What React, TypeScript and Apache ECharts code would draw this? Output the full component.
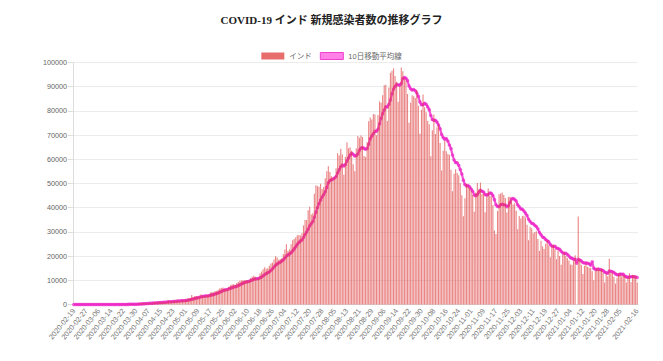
import React, { useEffect, useRef } from "react";
import * as echarts from "echarts";

const TITLE = "COVID-19 インド 新規感染者数の推移グラフ";
const SERIES_BAR = "インド";
const SERIES_MA = "10日移動平均線";
const START_DATE = "2020-02-19";

// daily new cases, 2020-02-19 .. 2021-02-16
const newCases: number[] = [
  // Feb 19-29
  0, 0, 0, 0, 0, 0, 0, 0, 0, 0, 0,
  // Mar
  0, 2, 1, 22, 2, 1, 3, 5, 4, 13, 6, 11, 10, 20, 11, 6, 23, 14, 38, 50, 86, 66, 103, 37, 121, 70, 160, 100, 112, 227, 146,
  // Apr
  601, 545, 478, 601, 472, 693, 354, 773, 540, 678, 1035, 909, 796, 1211, 1076, 941, 1007, 991, 1334, 1553, 1336, 1383, 1409, 1684, 1429, 1990, 1396, 1543, 1897, 1718,
  // May
  1993, 2293, 2644, 2553, 3900, 2958, 3561, 3390, 3320, 3277, 4213, 3604, 3525, 3722, 3967, 3970, 4987, 5242, 4970, 5611, 5609, 6088, 6654, 6767, 6977, 6535, 6387, 6566, 7466, 7964, 8380,
  // Jun
  8392, 8171, 8909, 9304, 9851, 9887, 9971, 9983, 9987, 9985, 9996, 10956, 11458, 11929, 11502, 10667, 10974, 12881, 13586, 14516, 15413, 14821, 14933, 15968, 16922, 17296, 18552, 19906, 19459, 18522,
  // Jul
  18653, 19148, 20903, 22771, 24850, 22252, 22752, 24879, 26506, 27114, 27762, 28637, 28701, 28498, 29429, 32695, 34956, 34884, 38902, 40425, 37148, 37724, 45720, 49310, 48916, 48661, 49931, 47704, 48513, 52123, 55079,
  // Aug
  57118, 54735, 52972, 52050, 52509, 56282, 62538, 61537, 64399, 62064, 53601, 60963, 66999, 64553, 65002, 63490, 57981, 55079, 64531, 69652, 68898, 69878, 69239, 61408, 60975, 67151, 75760, 77266, 76472, 78761, 78512,
  // Sep
  69921, 78357, 83883, 83341, 86432, 90632, 90802, 75809, 89706, 95735, 96551, 97570, 94372, 92071, 83809, 90123, 97894, 96424, 93337, 92605, 86961, 75083, 83347, 86508, 86052, 85362, 88600, 82170, 70589, 80472,
  // Oct
  86821, 81484, 79476, 75829, 74442, 61267, 72049, 78524, 70496, 73272, 74383, 66732, 55342, 63509, 67708, 63371, 62212, 61871, 55722, 46790, 54044, 55838, 54366, 53370, 50129, 45149, 36469, 43893, 49881, 48648, 48268,
  // Nov
  46963, 45231, 38310, 46253, 50209, 47638, 50356, 45674, 45903, 38073, 44281, 47905, 44878, 44684, 41100, 30548, 29163, 38617, 45576, 45882, 46232, 45209, 44059, 37975, 44376, 44489, 43082, 41322, 41810, 38772,
  // Dec
  31118, 36604, 35551, 36595, 36652, 36011, 32981, 26567, 32080, 31521, 29398, 30006, 30254, 27071, 22065, 26382, 24010, 22890, 25152, 26624, 24337, 19556, 23950, 24712, 23067, 18732, 22273, 20021, 16432, 20550, 21822,
  // Jan 2021
  20035, 19078, 18177, 16504, 16375, 18088, 20346, 0, 36400, 18645, 16311, 12584, 15968, 16946, 15590, 15158, 15144, 13788, 10064, 13823, 15223, 14545, 14256, 14849, 13203, 9102, 12689, 11666, 18855, 13083, 13052,
  // Feb 1-16
  11427, 8635, 11039, 12899, 12408, 11713, 12059, 11831, 9110, 11067, 12923, 9309, 12143, 12194, 11649, 9121,
];

// 10-day moving average line
const movingAvg10: number[] = [
  // Feb 19-29
  0, 0, 0, 0, 0, 0, 0, 0, 0, 0, 0,
  // Mar
  0, 0, 0, 3, 3, 3, 3, 4, 4, 5, 6, 7, 8, 8, 8, 9, 11, 12, 15, 19, 27, 32, 42, 43, 54, 61, 75, 83, 91, 108, 114,
  // Apr
  168, 212, 256, 304, 344, 398, 423, 489, 520, 574, 617, 653, 685, 746, 807, 831, 897, 918, 998, 1085, 1115, 1163, 1224, 1271, 1307, 1412, 1451, 1506, 1562, 1579,
  // May
  1644, 1735, 1859, 1946, 2193, 2290, 2506, 2691, 2833, 2989, 3211, 3342, 3430, 3547, 3554, 3655, 3798, 3983, 4148, 4381, 4521, 4769, 5082, 5387, 5688, 5944, 6084, 6216, 6466, 6701, 6978,
  // Jun
  7209, 7361, 7575, 7807, 8139, 8489, 8830, 9081, 9284, 9444, 9604, 9883, 10138, 10400, 10565, 10643, 10744, 11034, 11393, 11847, 12388, 12775, 13122, 13526, 14068, 14731, 15489, 16191, 16779, 17179,
  // Jul
  17503, 17936, 18533, 19213, 20006, 20502, 20922, 21419, 22124, 22983, 23894, 24843, 25622, 26195, 26653, 27697, 28918, 29918, 31158, 32489, 33428, 34336, 36038, 38119, 40068, 41665, 43162, 44444, 45405, 46575, 48368,
  // Aug
  50308, 51209, 51575, 51889, 52273, 52909, 54392, 55694, 56922, 57620, 57269, 57892, 59294, 60545, 61794, 62515, 62059, 61413, 61426, 62185, 63715, 64606, 64830, 64516, 64113, 64479, 66257, 68476, 69670, 70581, 71542,
  // Sep
  71547, 72458, 74706, 76942, 78871, 80358, 81711, 81645, 82740, 84462, 87125, 89046, 90095, 90968, 90706, 90655, 91364, 93426, 93789, 93476, 92517, 90268, 89165, 88609, 88833, 88357, 87428, 86003, 83728, 82514,
  // Oct
  82500, 83141, 82753, 81686, 80525, 78115, 76460, 76095, 76086, 75366, 74122, 72647, 70234, 69002, 68328, 68539, 67555, 65890, 64412, 61764, 59730, 58641, 58543, 57529, 55771, 53949, 51375, 49577, 48993, 49179, 48601,
  // Nov
  47714, 46800, 45294, 44907, 45413, 46529, 47176, 46755, 46481, 45461, 45193, 45460, 46117, 45960, 45049, 43340, 41221, 40515, 40483, 41263, 41459, 41189, 41107, 40436, 40764, 42158, 43550, 43820, 43444, 42733,
  // Dec
  41221, 40361, 39510, 39372, 38600, 37752, 36742, 35266, 34293, 33568, 33396, 32736, 32207, 31254, 29795, 28833, 27935, 27568, 26875, 26385, 25879, 24834, 24204, 23968, 24068, 23303, 23129, 22842, 21970, 21363, 21112,
  // Jan 2021
  21159, 20672, 20019, 19362, 19127, 18708, 18741, 17098, 18683, 18365, 17992, 17343, 17122, 17166, 17088, 16795, 16275, 17653, 15020, 14538, 14429, 14625, 14454, 14244, 14005, 13400, 13154, 12942, 13821, 13747, 13530,
  // Feb 1-16
  13218, 12656, 12275, 12245, 12575, 12478, 12517, 11815, 11417, 11219, 11368, 11436, 11546, 11476, 11400, 11141,
];

function buildDates(start: string, n: number): string[] {
  const [y, m, d] = start.split("-").map(Number);
  const out: string[] = [];
  for (let i = 0; i < n; i++) {
    const dt = new Date(Date.UTC(y, m - 1, d + i));
    const mm = String(dt.getUTCMonth() + 1).padStart(2, "0");
    const dd = String(dt.getUTCDate()).padStart(2, "0");
    out.push(`${dt.getUTCFullYear()}-${mm}-${dd}`);
  }
  return out;
}

const dates = buildDates(START_DATE, newCases.length);

const SANS = "'Liberation Sans', Arial, 'Noto Sans CJK JP', sans-serif";

export default function App() {
  const ref = useRef<HTMLDivElement>(null);
  useEffect(() => {
    if (!ref.current) return;
    const chart = echarts.init(ref.current, null, { renderer: "svg" });
    const last = dates.length - 1;
    chart.setOption({
      animation: false,
      backgroundColor: "#ffffff",
      title: {
        text: TITLE,
        left: "center",
        top: 9,
        textStyle: {
          fontFamily: "'Liberation Serif', 'Noto Sans CJK JP', serif",
          fontSize: 11,
          fontWeight: "bold",
          color: "#222",
        },
      },
      legend: {
        top: 47,
        left: "center",
        itemWidth: 23,
        itemHeight: 7,
        itemGap: 8,
        textStyle: { fontSize: 7.5, color: "#666", fontFamily: SANS },
        data: [
          { name: SERIES_BAR, icon: "rect", itemStyle: { color: "#e86e6e" } },
          {
            name: SERIES_MA,
            icon: "rect",
            itemStyle: { color: "#ff80e6", borderColor: "#f040d0", borderWidth: 1 },
          },
        ],
      },
      grid: { left: 73, top: 62.5, width: 565, height: 242, containLabel: false },
      xAxis: {
        type: "category",
        data: dates,
        boundaryGap: true,
        axisLine: { show: true, lineStyle: { color: "#dddddd" } },
        axisTick: { show: false },
        splitLine: { show: false },
        axisLabel: {
          rotate: 51,
          fontSize: 7.3,
          color: "#777",
          fontFamily: SANS,
          margin: 5,
          interval: (index: number) => (index % 8 === 0 && index <= last - 10) || index === last,
        },
      },
      yAxis: {
        type: "value",
        min: 0,
        max: 100000,
        interval: 10000,
        axisLine: { show: true, lineStyle: { color: "#dddddd" } },
        axisTick: { show: true, length: 5, lineStyle: { color: "#dddddd" } },
        axisLabel: {
          fontSize: 7.2,
          color: "#666",
          fontFamily: SANS,
          margin: 6,
          formatter: (v: number) => String(v),
        },
        splitLine: { show: true, lineStyle: { color: "#ececec", width: 1 } },
      },
      series: [
        {
          name: SERIES_MA,
          type: "line",
          data: movingAvg10,
          z: 1,
          showSymbol: true,
          showAllSymbol: true,
          symbol: "circle",
          symbolSize: 3.5,
          lineStyle: { color: "rgba(238,40,200,0.8)", width: 2.2 },
          itemStyle: { color: "rgba(238,40,200,0.7)", borderWidth: 0 },
        },
        {
          name: SERIES_BAR,
          type: "bar",
          data: newCases,
          z: 2,
          barCategoryGap: "28%",
          itemStyle: { color: "rgba(222,64,64,0.64)" },
        },
      ],
    });
    return () => chart.dispose();
  }, []);
  return (
    <div
      ref={ref}
      style={{ position: "absolute", left: 0, top: 0, width: 663, height: 361, background: "#fff" }}
    />
  );
}
